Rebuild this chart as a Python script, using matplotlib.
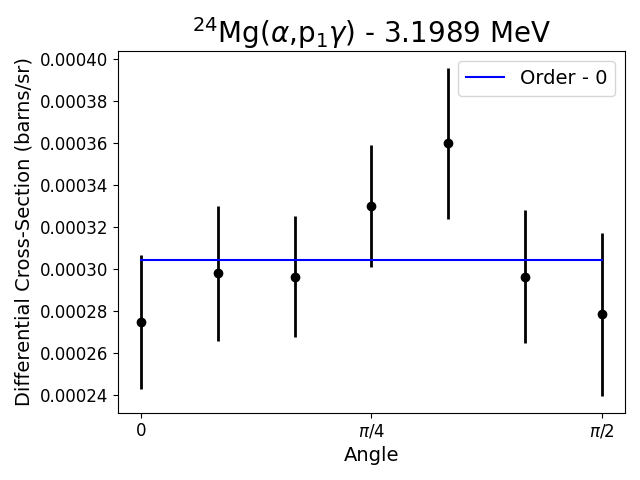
import numpy as np
import matplotlib.pyplot as plt

angles_deg = [0, 15, 30, 45, 60, 75, 90]
xsec = [0.000275, 0.000298, 0.0002965, 0.000330, 0.000360, 0.0002965, 0.0002785]
xsec_err = [0.000032, 0.000032, 0.000029, 0.000029, 0.000036, 0.0000315, 0.000039]
fit_order0 = 0.0003045

angles = np.radians(angles_deg)

fig, ax = plt.subplots(figsize=(6.4, 4.8), dpi=100)
ax.errorbar(angles, xsec, yerr=xsec_err, fmt='o', color='k', ecolor='k', elinewidth=2)
ax.plot([angles[0], angles[-1]], [fit_order0, fit_order0], color='b', label='Order - 0')

ax.set_xticks([0, np.pi/4, np.pi/2])
ax.set_xticklabels(['0', r'$\pi/4$', r'$\pi/2$'], fontsize=12)
ax.tick_params(axis='y', labelsize=12)
ax.set_xlabel('Angle', fontsize=14)
ax.set_ylabel('Differential Cross-Section (barns/sr)', fontsize=14)
ax.set_title(r'$^{24}$Mg($\alpha$,p$_1\gamma$) - 3.1989 MeV', fontsize=20)
ax.legend(fontsize=14)
fig.tight_layout()
fig.savefig('out.png')
